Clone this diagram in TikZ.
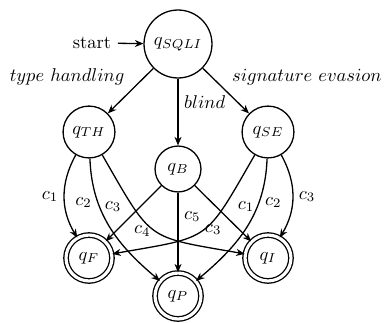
\documentclass[tikz,border=0pt]{standalone}
\usetikzlibrary{arrows.meta}
\begin{document}
\begin{tikzpicture}[x=0.54pt,y=0.54pt,line width=0.7pt,
  state/.style={circle,draw,inner sep=0pt},
  accstate/.style={state,double,double distance=1.7pt,outer sep=auto,minimum size=24.8pt},
  arr/.style={-{Stealth[length=4.6pt,width=3.8pt]}},
  lbl/.style={inner sep=3pt}]
\useasboundingbox (0,0) rectangle (389,322);

% states
\node[state,minimum size=36.7pt] (qs)  at (178,278) {$q_{SQLI}$};
\node[state,minimum size=28pt]   (qth) at (89,190)  {$q_{TH}$};
\node[state,minimum size=24.8pt] (qb)  at (178,153) {$q_{B}$};
\node[state,minimum size=28pt]   (qse) at (268,190) {$q_{SE}$};
\node[accstate] (qf) at (89,64)  {$q_{F}$};
\node[accstate] (qp) at (178,26) {$q_{P}$};
\node[accstate] (qi) at (268,64) {$q_{I}$};

% initial arrow
\node (start) at (92,279) {start};
\draw[arr] (start) -- (qs);

% first level
\draw[arr] (qs) -- node[midway,above left,lbl] {$type\ handling$} (qth);
\draw[arr] (qs) -- node[pos=0.35,right,lbl] {$blind$} (qb);
\draw[arr] (qs) -- node[midway,above right,lbl] {$signature\ evasion$} (qse);

% from q_TH
\draw[arr] (qth) to[bend right=30] node[midway,left,lbl] {$c_1$} (qf);
\draw[arr] (qth) to[out=-88,in=140] node[pos=0.3,left,lbl] {$c_2$} (qp);
\draw[arr] (qth) to[out=-60,in=170,looseness=1.5] node[pos=0.26,left=3pt,lbl] {$c_3$} (qi);

% from q_B
\draw[arr] (qb) -- node[pos=0.6,below right,lbl] {$c_4$} (qf);
\draw[arr] (qb) -- node[pos=0.3,right,lbl] {$c_5$} (qp);
\draw[arr] (qb) -- node[pos=0.58,below left,lbl] {$c_3$} (qi);

% from q_SE
\draw[arr] (qse) to[out=240,in=10,looseness=1.5] node[pos=0.26,right=4pt,lbl] {$c_1$} (qf);
\draw[arr] (qse) to[out=268,in=40] node[pos=0.3,right,lbl] {$c_2$} (qp);
\draw[arr] (qse) to[bend left=30] node[midway,right,lbl] {$c_3$} (qi);
\end{tikzpicture}
\end{document}
